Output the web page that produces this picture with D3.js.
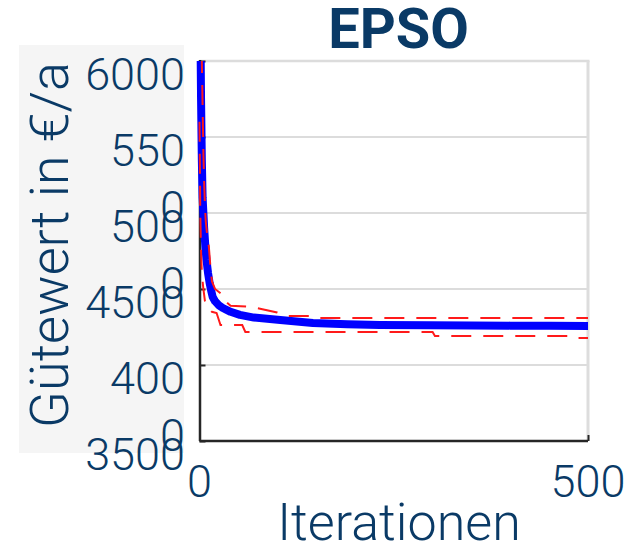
<!DOCTYPE html>
<html>
<head>
<meta charset="utf-8">
<script src="https://cdn.jsdelivr.net/npm/d3@7/dist/d3.min.js"></script>
<style>
  html, body { margin: 0; padding: 0; background: #ffffff; }
  svg { display: block; }
  text { font-family: Roboto, "Liberation Sans", Arial, sans-serif; }
</style>
</head>
<body>
<svg id="chart" width="629" height="547"></svg>
<script>
// Convergence of the EPSO optimiser: mean fitness and min/max envelope per iteration
const title = "EPSO";
const xLabel = "Iterationen";
const yLabel = "Gütewert in €/a";

const xTicks = [0, 500];
const xTickLabels = ["0", "500"];
const yTicks = [6000, 5500, 5000, 4500, 4000, 3500];
// tick labels as rendered, split into lines
const yTickLabels = [["6000"], ["550", "0"], ["500", "0"], ["4500"], ["400", "0"], ["3500"]];
const yGrid = [5500, 5000, 4500, 4000];

// mean fitness
const meanIter = [0, 1, 2, 3, 4, 5, 6, 7, 8, 9, 11, 13, 15, 17, 20, 25, 30, 40, 52, 70, 104, 146, 190, 232, 297, 350, 400, 450, 500];
const meanVal  = [7200, 6300, 5750, 5350, 5100, 5000, 4900, 4820, 4750, 4690, 4605, 4540, 4490, 4447, 4420, 4392, 4375, 4350, 4330, 4312, 4296, 4276, 4268, 4263, 4262, 4260, 4259, 4258, 4257];

// upper envelope (max)
const maxIter = [0, 2, 3, 4, 5, 6, 7, 8, 10, 12, 14, 16, 20, 25, 30, 33, 40, 63, 78, 100, 112, 145, 150, 500];
const maxVal  = [9000, 6500, 6000, 5700, 5400, 5200, 5050, 4950, 4850, 4780, 4650, 4550, 4500, 4480, 4460, 4420, 4390, 4385, 4370, 4345, 4322, 4322, 4309, 4309];

// lower envelope (min)
const minIter = [0, 1, 2, 3, 5, 7, 9, 12, 16, 22, 27, 55, 59, 300, 303, 478, 481, 500];
const minVal  = [5600, 5000, 4750, 4600, 4500, 4420, 4380, 4370, 4350, 4342, 4263, 4263, 4217, 4217, 4191, 4191, 4178, 4178];

const textColor = "#0a3a66";
const svg = d3.select("#chart");

const plot = { left: 199.5, right: 588, top: 61, bottom: 441 };
const x = d3.scaleLinear().domain([0, 500]).range([plot.left, plot.right]);
const y = d3.scaleLinear().domain([3500, 6000]).range([plot.bottom, plot.top]);

// shaded panel behind the y label and tick labels
svg.append("rect")
  .attr("x", 19).attr("y", 45).attr("width", 165).attr("height", 408)
  .attr("fill", "#f5f5f5");

// grid lines
svg.append("g").selectAll("line").data(yGrid).join("line")
  .attr("x1", plot.left).attr("x2", plot.right)
  .attr("y1", d => y(d)).attr("y2", d => y(d))
  .attr("stroke", "#dcdcdc").attr("stroke-width", 2);

// top and right box edges
svg.append("line").attr("x1", plot.left).attr("x2", plot.right + 1.5)
  .attr("y1", y(6000)).attr("y2", y(6000))
  .attr("stroke", "#dcdcdc").attr("stroke-width", 2.5);
svg.append("line").attr("x1", plot.right).attr("x2", plot.right)
  .attr("y1", y(6000)).attr("y2", plot.bottom)
  .attr("stroke", "#dddddd").attr("stroke-width", 3);

// y axis (ticks inward)
const yAxis = d3.axisRight(y).tickValues(yTicks).tickSize(6).tickFormat("");
const gy = svg.append("g").attr("transform", `translate(${plot.left},0)`).call(yAxis);
gy.select(".domain").attr("stroke", "#262626").attr("stroke-width", 2.5)
  .attr("d", `M0.5,${plot.top - 1}V${plot.bottom}`);
gy.selectAll(".tick line").attr("stroke", "#262626").attr("stroke-width", 2);

// x axis (ticks inward)
const xAxis = d3.axisTop(x).tickValues(xTicks).tickSize(6).tickFormat("");
const gx = svg.append("g").attr("transform", `translate(0,${plot.bottom})`).call(xAxis);
gx.select(".domain").attr("stroke", "#262626").attr("stroke-width", 2.5)
  .attr("d", `M${plot.left},0H${plot.right}`);
gx.selectAll(".tick line").attr("stroke", "#262626").attr("stroke-width", 2);

// clip for data lines
svg.append("clipPath").attr("id", "plotClip").append("rect")
  .attr("x", plot.left - 4).attr("y", plot.top)
  .attr("width", plot.right - plot.left + 4).attr("height", plot.bottom - plot.top);

const line = d3.line().x(d => x(d[0])).y(d => y(d[1]));
const data = svg.append("g").attr("clip-path", "url(#plotClip)");

data.append("path")
  .attr("d", line(d3.zip(meanIter, meanVal)))
  .attr("fill", "none").attr("stroke", "#0000ff").attr("stroke-width", 8)
  .attr("stroke-linejoin", "round");

[d3.zip(maxIter, maxVal), d3.zip(minIter, minVal)].forEach(pts => {
  data.append("path")
    .attr("d", line(pts))
    .attr("fill", "none").attr("stroke", "#ff1a1a").attr("stroke-width", 2)
    .attr("stroke-dasharray", "20,12");
});

// y tick labels (top aligned, possibly wrapped)
const ylab = svg.append("g").attr("fill", textColor).attr("font-size", 45)
  .attr("font-weight", 300).attr("text-anchor", "end");
yTicks.forEach((v, i) => {
  const t = ylab.append("text").attr("x", 185).attr("y", y(v) + 29);
  yTickLabels[i].forEach((s, k) => {
    t.append("tspan").attr("x", 185).attr("dy", k === 0 ? 0 : 57).text(s);
  });
});

// x tick labels
svg.append("g").attr("fill", textColor).attr("font-size", 45).attr("font-weight", 300)
  .attr("text-anchor", "middle")
  .selectAll("text").data(xTicks).join("text")
  .attr("x", d => x(d)).attr("y", 497)
  .text((d, i) => xTickLabels[i]);

// axis titles
svg.append("text").attr("x", 399).attr("y", 540)
  .attr("text-anchor", "middle").attr("font-size", 52).attr("font-weight", 300)
  .attr("fill", textColor).text(xLabel);

svg.append("text")
  .attr("transform", "translate(68,245) rotate(-90)")
  .attr("text-anchor", "middle").attr("font-size", 54).attr("font-weight", 300)
  .attr("fill", textColor).text(yLabel);

// title
svg.append("text").attr("x", 398.5).attr("y", 48)
  .attr("text-anchor", "middle").attr("font-size", 56).attr("font-weight", "bold")
  .attr("fill", textColor).text(title);
</script>
</body>
</html>
